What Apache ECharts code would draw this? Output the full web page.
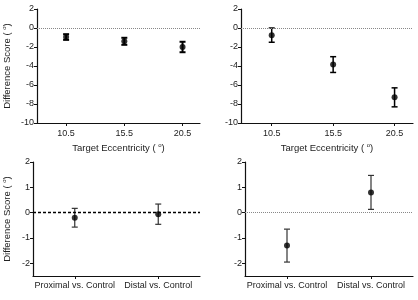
<!DOCTYPE html>
<html>
<head>
<meta charset="utf-8">
<script src="https://cdn.jsdelivr.net/npm/echarts@6/dist/echarts.min.js"></script>
<style>
  html, body { margin: 0; padding: 0; background: #fff; }
  #chart { width: 418px; height: 300px; }
</style>
</head>
<body>
<div id="chart"></div>
<script>
// eccentricity panels (top row)
const eccentricities = [10.5, 15.5, 20.5]
const panelAMean = [-0.95, -1.4, -2.0]
const panelAErr = [0.3, 0.37, 0.55]
const panelBMean = [-0.75, -3.85, -7.3]
const panelBErr = [0.75, 0.83, 1.0]

// comparison panels (bottom row)
const comparisons = ['Proximal vs. Control', 'Distal vs. Control']
const panelCMean = [-0.2, -0.06]
const panelCErr = [0.37, 0.4]
const panelDMean = [-1.3, 0.8]
const panelDErr = [0.65, 0.67]

const bottomYTicks = [-2, -1, 0, 1, 2]

const font = 'Liberation Sans, Arial, sans-serif'
const chart = echarts.init(document.getElementById('chart'))

const degRich = {
  deg: { fontSize: 6, fontFamily: font, color: '#222', padding: [0, 0, 6, 0] }
}

function errorBars(capHalf, color, width) {
  return function (params, api) {
    const x = api.value(0)
    const m = api.value(1)
    const e = api.value(2)
    const top = api.coord([x, m + e])
    const bot = api.coord([x, m - e])
    const style = { stroke: color, lineWidth: width }
    return {
      type: 'group',
      children: [
        { type: 'line', shape: { x1: top[0], y1: top[1], x2: bot[0], y2: bot[1] }, style },
        { type: 'line', shape: { x1: top[0] - capHalf, y1: top[1], x2: top[0] + capHalf, y2: top[1] }, style },
        { type: 'line', shape: { x1: bot[0] - capHalf, y1: bot[1], x2: bot[0] + capHalf, y2: bot[1] }, style }
      ]
    }
  }
}

function zeroLine(style) {
  return {
    symbol: 'none',
    silent: true,
    label: { show: false },
    lineStyle: style,
    data: [{ yAxis: 0 }]
  }
}

const axisLine = { show: true, onZero: false, lineStyle: { color: '#111', width: 1.2 } }
const axisTick = { show: true, length: 3, lineStyle: { color: '#111', width: 1 } }
const labelStyle = { fontSize: 9, fontFamily: font, color: '#222' }
const nameStyle = { fontSize: 9.5, fontFamily: font, color: '#222', rich: degRich }

function topX(gridIndex) {
  return {
    type: 'value',
    gridIndex,
    min: 8,
    max: 22,
    name: 'Target Eccentricity ( {deg|o})',
    nameLocation: 'middle',
    nameGap: 19,
    nameMoveOverlap: false,
    nameTextStyle: nameStyle,
    axisLine,
    axisTick: { ...axisTick, customValues: eccentricities },
    axisLabel: { ...labelStyle, margin: 6, customValues: eccentricities },
    splitLine: { show: false }
  }
}

function topY(gridIndex, showName) {
  return {
    type: 'value',
    gridIndex,
    min: -10,
    max: 2,
    interval: 2,
    name: showName ? 'Difference Score ( {deg|o})' : '',
    nameLocation: 'middle',
    nameGap: 24,
    nameMoveOverlap: false,
    nameTextStyle: nameStyle,
    axisLine,
    axisTick,
    axisLabel: { ...labelStyle, margin: 3 },
    splitLine: { show: false }
  }
}

function bottomX(gridIndex) {
  return {
    type: 'category',
    gridIndex,
    data: comparisons,
    axisLine,
    axisTick: { ...axisTick, alignWithLabel: true, interval: 0 },
    axisLabel: { ...labelStyle, margin: 5, interval: 0 },
    splitLine: { show: false }
  }
}

function bottomY(gridIndex, showName) {
  return {
    type: 'value',
    gridIndex,
    min: -2.5,
    max: 2,
    name: showName ? 'Difference Score ( {deg|o})' : '',
    nameLocation: 'middle',
    nameGap: 20,
    nameMoveOverlap: false,
    nameTextStyle: nameStyle,
    axisLine,
    axisTick: { ...axisTick, customValues: bottomYTicks },
    axisLabel: { ...labelStyle, margin: 3, customValues: bottomYTicks },
    splitLine: { show: false }
  }
}

function panel(idx, xs, means, errs, capHalf, barColor, barWidth, lineStyle) {
  return [
    {
      type: 'custom',
      xAxisIndex: idx,
      yAxisIndex: idx,
      renderItem: errorBars(capHalf, barColor, barWidth),
      encode: { x: 0, y: 1 },
      data: xs.map((x, i) => [x, means[i], errs[i]]),
      z: 3
    },
    {
      type: 'scatter',
      xAxisIndex: idx,
      yAxisIndex: idx,
      symbol: 'circle',
      symbolSize: 6,
      itemStyle: { color: '#000' },
      data: xs.map((x, i) => [x, means[i]]),
      markLine: zeroLine(lineStyle),
      z: 4
    }
  ]
}

const dotted = { type: 'dotted', color: '#888', width: 1 }
const dashed = { type: [3, 2], color: '#000', width: 1.4 }

chart.setOption({
  animation: false,
  grid: [
    { left: 29, top: 9, width: 171, height: 114 },
    { left: 241, top: 9, width: 172, height: 114 },
    { left: 29, top: 162, width: 171, height: 114 },
    { left: 245, top: 162, width: 168, height: 114 }
  ],
  xAxis: [topX(0), topX(1), bottomX(2), bottomX(3)],
  yAxis: [topY(0, true), topY(1, false), bottomY(2, true), bottomY(3, false)],
  series: [
    ...panel(0, eccentricities, panelAMean, panelAErr, 3, '#000', 2, dotted),
    ...panel(1, eccentricities, panelBMean, panelBErr, 3, '#000', 1.5, dotted),
    ...panel(2, [0, 1], panelCMean, panelCErr, 3, '#333', 1.2, dashed),
    ...panel(3, [0, 1], panelDMean, panelDErr, 3, '#333', 1.2, dotted)
  ]
})
</script>
</body>
</html>
